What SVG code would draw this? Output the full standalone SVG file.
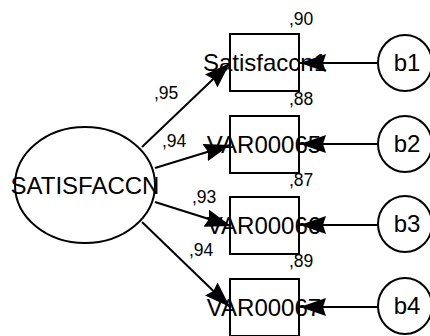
<svg xmlns="http://www.w3.org/2000/svg" width="430" height="336" viewBox="0 0 430 336">
<style>
.shape{fill:#fff;stroke:#000;stroke-width:2}
.edge{stroke:#000;stroke-width:2;fill:none}
.big{font-family:"Liberation Sans",Arial,sans-serif;font-size:24px;fill:#000;text-anchor:middle}
.small{font-family:"Liberation Sans",Arial,sans-serif;font-size:17.5px;fill:#000}
</style>
<defs>
<marker id="ah" markerUnits="userSpaceOnUse" viewBox="0 0 26 18" markerWidth="26" markerHeight="18" refX="26" refY="9" orient="auto">
<path d="M0,0 L26,9 L0,18 L3,9 z" fill="#000"/>
</marker>
</defs>
<rect width="430" height="336" fill="#fff"/>
<g id="SATISFACCN">
<ellipse class="shape" cx="85" cy="185" rx="70" ry="58"/>
<text class="big" x="85" y="194">SATISFACCN</text>
</g>
<g id="Satisfaccn1">
<rect class="shape" x="230" y="34" width="69" height="57"/>
<text class="big" x="265" y="71">Satisfaccn1</text>
<text class="small" x="289" y="25">,90</text>
</g>
<g id="VAR00065">
<rect class="shape" x="230" y="116" width="69" height="57"/>
<text class="big" x="264" y="153">VAR00065</text>
<text class="small" x="289" y="105">,88</text>
</g>
<g id="VAR00066">
<rect class="shape" x="230" y="197" width="69" height="57"/>
<text class="big" x="264" y="234">VAR00066</text>
<text class="small" x="289" y="186">,87</text>
</g>
<g id="VAR00067">
<rect class="shape" x="230" y="279" width="69" height="57"/>
<text class="big" x="264" y="316">VAR00067</text>
<text class="small" x="289" y="267">,89</text>
</g>
<g id="b1">
<ellipse class="shape" cx="405" cy="63" rx="27" ry="28"/>
<text class="big" x="407" y="71">b1</text>
</g>
<g id="b2">
<ellipse class="shape" cx="405" cy="144" rx="27" ry="28"/>
<text class="big" x="407" y="152">b2</text>
</g>
<g id="b3">
<ellipse class="shape" cx="405" cy="224" rx="27" ry="28"/>
<text class="big" x="407" y="232">b3</text>
</g>
<g id="b4">
<ellipse class="shape" cx="405" cy="306" rx="27" ry="28"/>
<text class="big" x="407" y="314">b4</text>
</g>
<g id="connectors">
<line class="edge" x1="142" y1="147" x2="230" y2="63" marker-end="url(#ah)"/>
<line class="edge" x1="155" y1="168" x2="230" y2="145" marker-end="url(#ah)"/>
<line class="edge" x1="155" y1="202" x2="231" y2="226" marker-end="url(#ah)"/>
<line class="edge" x1="142" y1="222" x2="230" y2="307" marker-end="url(#ah)"/>
<line class="edge" x1="378" y1="63" x2="300" y2="63" marker-end="url(#ah)"/>
<line class="edge" x1="378" y1="144" x2="300" y2="144" marker-end="url(#ah)"/>
<line class="edge" x1="378" y1="225" x2="300" y2="225" marker-end="url(#ah)"/>
<line class="edge" x1="378" y1="307" x2="300" y2="307" marker-end="url(#ah)"/>
<text class="small" x="154" y="99">,95</text>
<text class="small" x="162" y="147">,94</text>
<text class="small" x="192" y="203">,93</text>
<text class="small" x="189" y="256">,94</text>
</g>
</svg>
